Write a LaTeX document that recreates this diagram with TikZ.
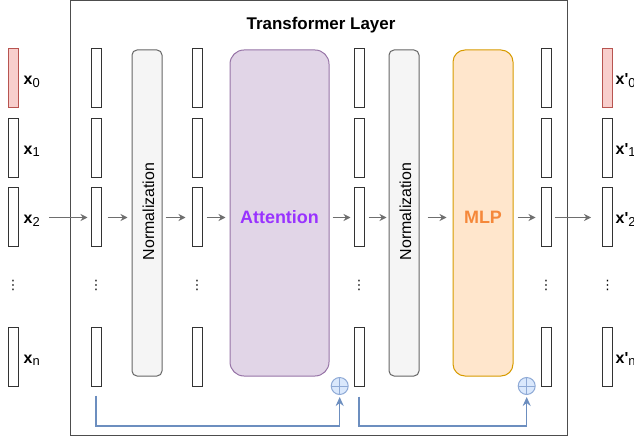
\documentclass[tikz,border=0pt]{standalone}
\usepackage{fontspec}
\setmainfont{Liberation Sans}
\newfontfamily\symfont{DejaVu Sans}
\usetikzlibrary{arrows.meta}
\definecolor{vecdraw}{HTML}{333333}
\definecolor{redfill}{HTML}{F8CECC}
\definecolor{reddraw}{HTML}{B85450}
\definecolor{normfill}{HTML}{F5F5F5}
\definecolor{normdraw}{HTML}{666666}
\definecolor{attfill}{HTML}{E1D5E7}
\definecolor{attdraw}{HTML}{9673A6}
\definecolor{mlpfill}{HTML}{FFE6CC}
\definecolor{mlpdraw}{HTML}{D79B00}
\definecolor{attText}{HTML}{9933FF}
\definecolor{mlpText}{HTML}{F5883A}
\definecolor{fbblue}{HTML}{6C8EBF}
\definecolor{plusfill}{HTML}{DAE8FC}
\definecolor{plusdraw}{HTML}{8FAAD6}
\definecolor{arrgray}{HTML}{6E6E6E}
\definecolor{framegray}{HTML}{4D4D4D}
\newcommand{\veclab}[2]{{\fontsize{16}{16}\selectfont\bfseries x#1}{\fontsize{13}{13}\selectfont\raisebox{-2.5bp}{#2}}}
\tikzset{
  vec/.style={draw=vecdraw, line width=1bp, fill=white, minimum width=10bp, minimum height=59bp, inner sep=0pt},
  redvec/.style={vec, draw=reddraw, fill=redfill},
  bigbox/.style={line width=1bp, inner sep=0pt, minimum height=326bp},
  normbox/.style={bigbox, draw=normdraw, fill=normfill, rounded corners=5bp, minimum width=30bp},
  attbox/.style={bigbox, draw=attdraw, fill=attfill, rounded corners=14bp, minimum width=99bp},
  mlpbox/.style={bigbox, draw=mlpdraw, fill=mlpfill, rounded corners=12bp, minimum width=60bp},
  lab/.style={anchor=base west, inner sep=0pt},
  dotsn/.style={inner sep=0pt, font=\symfont\fontsize{13}{13}\selectfont},
  arr/.style={draw=arrgray, line width=1bp, -{Stealth[length=7bp,width=7bp]}},
  fb/.style={draw=fbblue, line width=1.5bp, -{Stealth[length=9bp,width=8bp]}},
  plus/.style={circle, draw=plusdraw, fill=plusfill, line width=1bp, minimum size=17bp, inner sep=0pt,
    path picture={\draw[plusdraw, line width=1bp] (path picture bounding box.north) -- (path picture bounding box.south) (path picture bounding box.west) -- (path picture bounding box.east);}},
  frame/.style={draw=framegray, line width=1bp, inner sep=0pt, minimum width=496bp, minimum height=434.5bp},
  bigtext/.style={font=\fontsize{18}{18}\selectfont\bfseries, inner sep=0pt, anchor=base},
  normtext/.style={font=\fontsize{16}{16}\selectfont, inner sep=0pt, anchor=base, rotate=90},
}
\begin{document}
\begin{tikzpicture}[x=1bp, y=-1bp]
\useasboundingbox (0,0) rectangle (634,441);
% outer frame
\node[frame] (layer) at (319,218) {};
\node[font=\fontsize{17}{17}\selectfont\bfseries, inner sep=0pt, anchor=base] (title) at (321,30) {Transformer Layer};
% vectors
\foreach \cx/\cn in {13/a,96/b,197/c,359/d,546/e,607.5/f}{
  \foreach \ry/\rn in {78.5/0,148/1,217.5/2,356.5/n}{
    \node[vec] (\cn\rn) at (\cx,\ry) {};
  }
  \node[dotsn] (\cn dots) at (\cx,285) {⋮};
}
\node[redvec] (a0) at (13,78.5) {};
\node[redvec] (f0) at (607.5,78.5) {};
% input labels
\node[lab] (la0) at (23.5,85) {\veclab{}{0}};
\node[lab] (la1) at (23.5,154.5) {\veclab{}{1}};
\node[lab] (la2) at (23.5,224) {\veclab{}{2}};
\node[lab] (lan) at (23.5,363) {\veclab{}{n}};
% output labels
\node[lab] (lf0) at (615.5,85) {\veclab{\textquotesingle}{0}};
\node[lab] (lf1) at (615.5,154.5) {\veclab{\textquotesingle}{1}};
\node[lab] (lf2) at (615.5,224) {\veclab{\textquotesingle}{2}};
\node[lab] (lfn) at (615.5,363) {\veclab{\textquotesingle}{n}};
% big boxes
\node[normbox] (norm1) at (147,213) {};
\node[attbox] (att) at (279.5,213) {};
\node[normbox] (norm2) at (404,213) {};
\node[mlpbox] (mlp) at (483,213) {};
\node[normtext] (norm1t) at (154,211.5) {Normalization};
\node[normtext] (norm2t) at (411,211.5) {Normalization};
\node[bigtext, text=attText] (attt) at (279.5,223.3) {Attention};
\node[bigtext, text=mlpText] (mlpt) at (483,224) {MLP};
% arrows
\draw[arr, shorten <=9bp, shorten >=3bp] (la2.east |- a2.east) -- (b2.west);
\draw[arr, shorten <=6bp, shorten >=4bp] (b2.east) -- (b2.east -| norm1.west);
\draw[arr, shorten <=3bp, shorten >=6bp] (norm1.east |- c2.west) -- (c2.west);
\draw[arr, shorten <=4bp, shorten >=4bp] (c2.east) -- (c2.east -| att.west);
\draw[arr, shorten <=3bp, shorten >=3bp] (att.east |- d2.west) -- (d2.west);
\draw[arr, shorten <=4bp, shorten >=2bp] (d2.east) -- (d2.east -| norm2.west);
\draw[arr, shorten <=8bp, shorten >=6bp] (norm2.east |- d2.east) -- (d2.east -| mlp.west);
\draw[arr, shorten <=4bp, shorten >=5bp] (mlp.east |- e2.west) -- (e2.west);
\draw[arr, shorten <=3bp, shorten >=11bp] (e2.east) -- (f2.west);
% residual connections
\node[plus] (plus1) at (339.7,386) {};
\node[plus] (plus2) at (526.7,386) {};
\coordinate (fbrow) at (0,426);
\draw[fb, shorten <=9bp, shorten >=2bp] (bn.south) -- (bn.south |- fbrow) -| (plus1.south);
\draw[fb, shorten <=10bp, shorten >=2bp] (dn.south) -- (dn.south |- fbrow) -| (plus2.south);
\end{tikzpicture}
\end{document}
